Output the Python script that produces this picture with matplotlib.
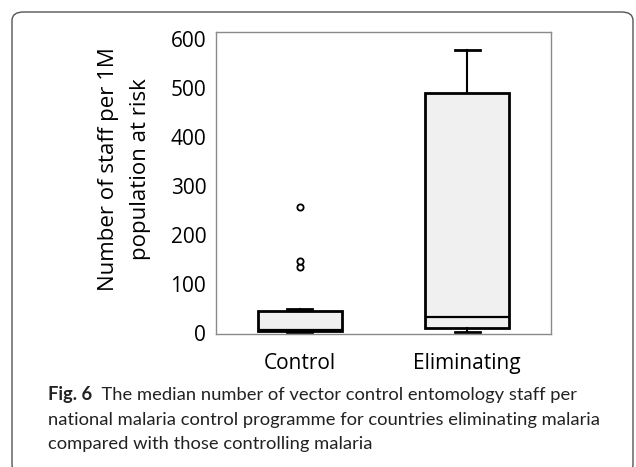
import matplotlib
matplotlib.use("Agg")
import matplotlib.pyplot as plt
from matplotlib.patches import FancyBboxPatch

# ── data ─────────────────────────────────────────────────────────────────────
groups   = ["Control", "Eliminating"]
whislo   = [2, 3]
q1       = [4, 10]
med      = [6, 32]
q3       = [44, 490]
whishi   = [48, 578]
fliers   = [[135, 146, 258], []]
yticks   = [0, 100, 200, 300, 400, 500, 600]

YLABEL  = "Number of staff per 1M\npopulation at risk"
CAP_BOLD = "Fig. 6"
CAP_TEXT = ["The median number of vector control entomology staff per",
            "national malaria control programme for countries eliminating malaria",
            "compared with those controlling malaria"]

W, H = 636, 467
FONT = "Open Sans"
CAP_FONT = "Lato"
CAP_SIZE = 13.2

fig = plt.figure(figsize=(W / 100, H / 100), dpi=100)
fig.patch.set_facecolor("white")

# rounded frame around the figure, open at the bottom edge
frame = FancyBboxPatch((12 / W, -6 / H), 621 / W, 461 / H,
                       boxstyle="round,pad=0,rounding_size=0.018",
                       transform=fig.transFigure, facecolor="none",
                       edgecolor="#555555", linewidth=1.0)
fig.patches.append(frame)

ax = fig.add_axes([216 / W, (H - 334) / H, 335 / W, 302 / H])

stats = []
for i, name in enumerate(groups):
    stats.append(dict(label=name, whislo=whislo[i], q1=q1[i], med=med[i],
                      q3=q3[i], whishi=whishi[i], fliers=fliers[i]))

ax.bxp(stats, positions=[1, 2], widths=0.5, capwidths=0.15,
       patch_artist=True, showfliers=True,
       boxprops=dict(facecolor="#f0f0f0", edgecolor="black", linewidth=2),
       medianprops=dict(color="black", linewidth=1.6),
       whiskerprops=dict(color="black", linewidth=1.5),
       capprops=dict(color="black", linewidth=2),
       flierprops=dict(marker="o", markersize=4.5, markerfacecolor="white",
                       markeredgecolor="black", markeredgewidth=1.3))

ax.set_xlim(0.5, 2.5)
ax.set_ylim(-2, 614)
ax.set_yticks(yticks)
ax.tick_params(length=0, labelsize=15)
ax.tick_params(axis="y", pad=7)
ax.tick_params(axis="x", pad=14)
for lab in ax.get_xticklabels() + ax.get_yticklabels():
    lab.set_fontfamily(FONT)
for sp in ax.spines.values():
    sp.set_color("#8a8a8a")
    sp.set_linewidth(1)

ax.set_ylabel(YLABEL, fontsize=16, fontfamily=FONT, linespacing=1.65)
ax.yaxis.set_label_coords(-0.195, 0.545)

# caption
bold = fig.text(48 / W, 1 - 400 / H, CAP_BOLD, fontsize=CAP_SIZE,
                fontweight="bold", fontfamily=CAP_FONT, va="baseline",
                color="#222222")
ax.annotate("  " + CAP_TEXT[0], xy=(1, 0), xycoords=bold,
            fontsize=CAP_SIZE, fontfamily=CAP_FONT, va="bottom",
            color="#222222", annotation_clip=False)
fig.text(48 / W, 1 - 425 / H, CAP_TEXT[1], fontsize=CAP_SIZE,
         fontfamily=CAP_FONT, va="baseline", color="#222222")
fig.text(48 / W, 1 - 449 / H, CAP_TEXT[2], fontsize=CAP_SIZE,
         fontfamily=CAP_FONT, va="baseline", color="#222222")

fig.savefig("out.png", dpi=100, facecolor="white")
